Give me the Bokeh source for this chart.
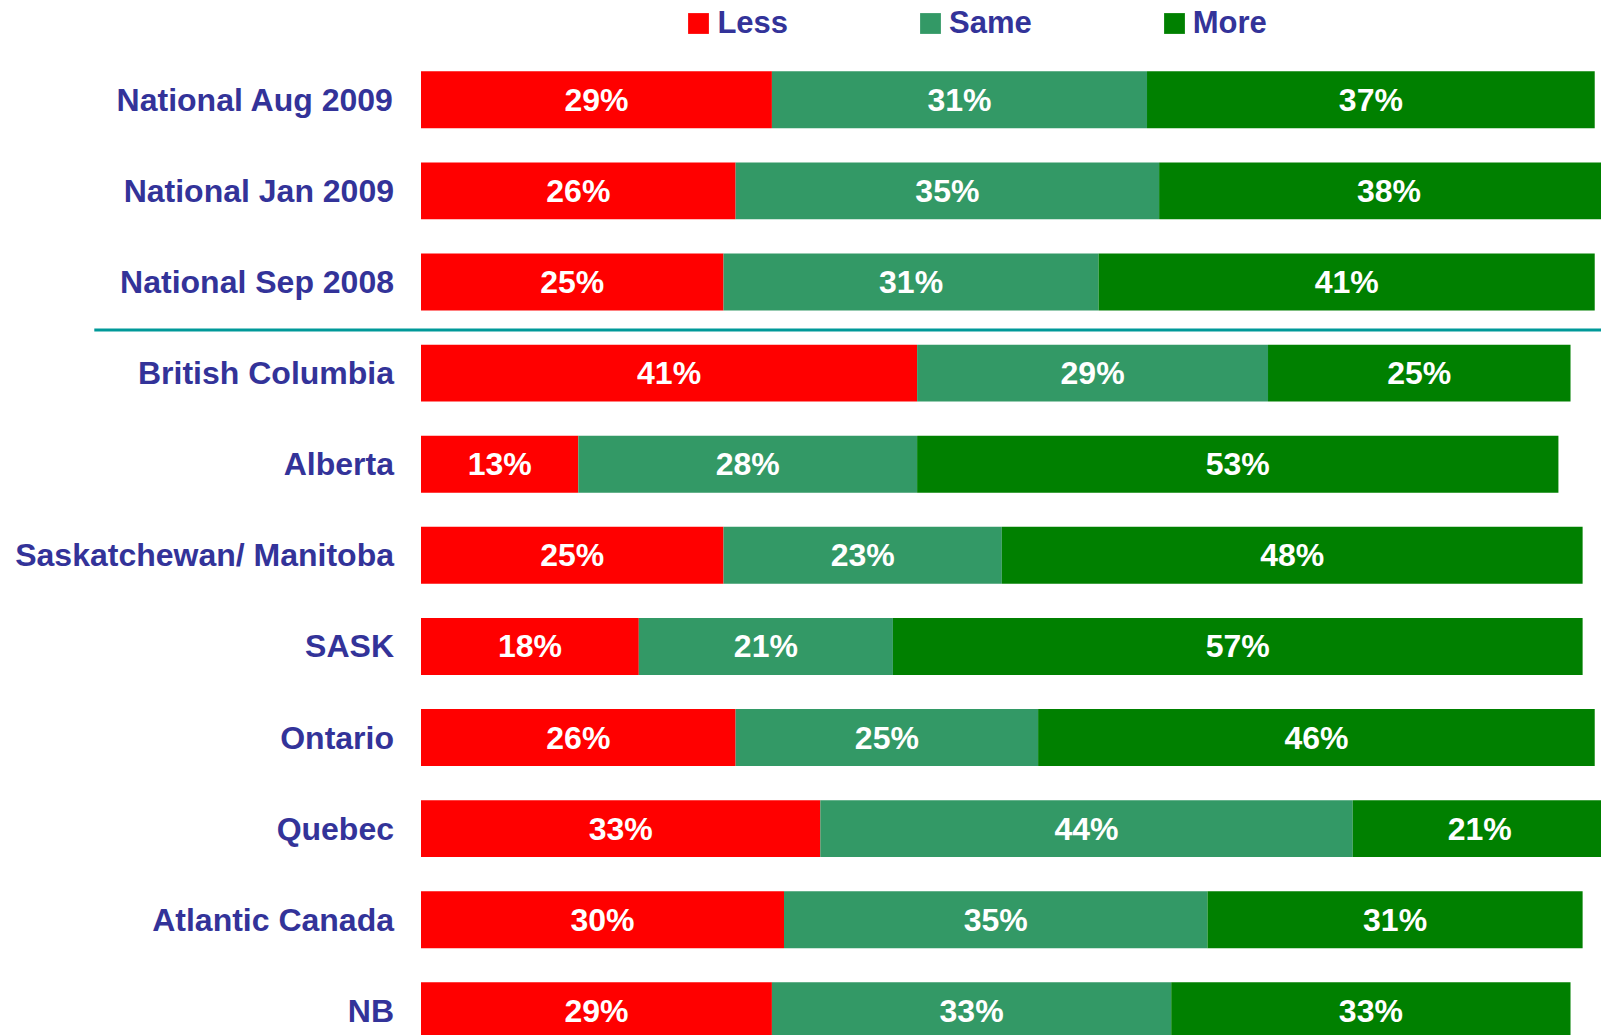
from bokeh.plotting import figure
from bokeh.models import Range1d, ColumnDataSource
from bokeh.core.properties import value
from bokeh.embed import file_html
from bokeh.resources import INLINE

categories = ["National Aug 2009", "National Jan 2009", "National Sep 2008",
              "British Columbia", "Alberta", "Saskatchewan/ Manitoba", "SASK",
              "Ontario", "Quebec", "Atlantic Canada", "NB"]
less = [29, 26, 25, 41, 13, 25, 18, 26, 33, 30, 29]
same = [31, 35, 31, 29, 28, 23, 21, 25, 44, 35, 33]
more = [37, 38, 41, 25, 53, 48, 57, 46, 21, 31, 33]
series = ["Less", "Same", "More"]
colors = ["#FF0000", "#339966", "#008000"]

TEXT_COLOR = "#333399"
FONT = "Liberation Sans"

ypos = list(range(len(categories)))
source = ColumnDataSource(dict(y=ypos, Less=less, Same=same, More=more))

p = figure(width=1601, height=1035, output_backend="svg", toolbar_location=None,
           title=None,
           x_range=Range1d(-34.752, 97.56), y_range=Range1d(10.271, -1.090),
           x_axis_location=None, y_axis_location=None,
           min_border_left=0, min_border_right=0, min_border_top=0,
           min_border_bottom=0)
p.outline_line_color = None
p.grid.visible = False
p.background_fill_color = "white"

p.hbar_stack(series, y="y", height=0.625, fill_color=colors, line_color=None,
             source=source, legend_label=series)

# value labels centred in each segment
lab_x, lab_y, lab_t = [], [], []
for i in range(len(categories)):
    start = 0
    for vals in (less, same, more):
        v = vals[i]
        lab_x.append(start + v / 2)
        lab_y.append(ypos[i])
        lab_t.append(f"{v}%")
        start += v
p.text(x=lab_x, y=lab_y, text=lab_t, text_color="white",
       text_font=value(FONT), text_font_style="bold", text_font_size="32px",
       text_align="center", text_baseline="middle")

# category labels, right-aligned just left of the bars
p.text(x=[0] * len(categories), y=ypos, text=categories, x_offset=-27,
       text_color=TEXT_COLOR, text_font=value(FONT), text_font_style="bold",
       text_font_size="32px", text_align="right", text_baseline="middle")

# separator between national and provincial results
p.segment(x0=[-27.0], y0=[2.527], x1=[100], y1=[2.527],
          line_color="#009999", line_width=3)

lg = p.legend[0]
lg.orientation = "horizontal"
lg.location = (685.4, 994)
lg.glyph_width = 26
lg.glyph_height = 26
lg.label_standoff = 6
lg.spacing = 129
lg.padding = 0
lg.margin = 0
lg.border_line_color = None
lg.background_fill_alpha = 0
lg.label_text_font = FONT
lg.label_text_font_style = "bold"
lg.label_text_font_size = "31px"
lg.label_text_color = TEXT_COLOR

open("out.html", "w").write(file_html(p, INLINE))
